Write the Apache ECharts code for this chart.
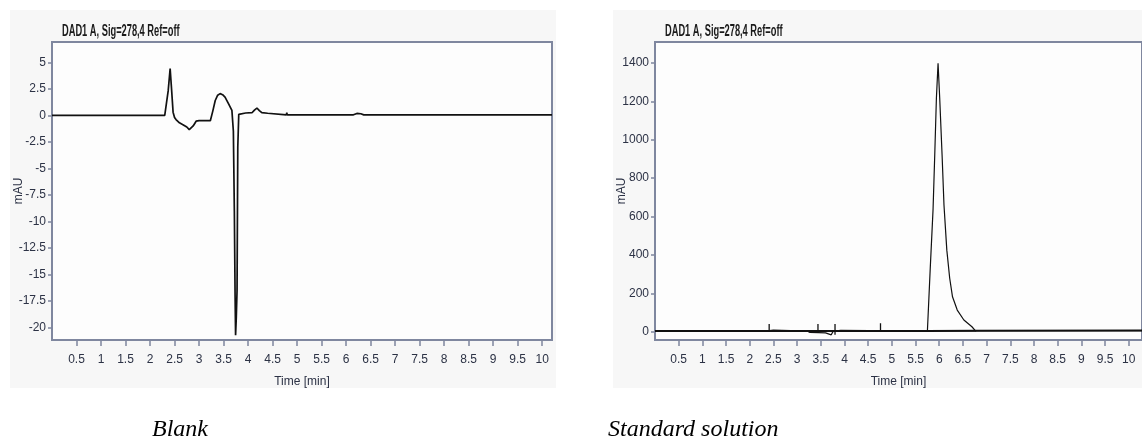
<!DOCTYPE html>
<html>
<head>
<meta charset="utf-8">
<script src="https://cdn.jsdelivr.net/npm/echarts@6/dist/echarts.min.js"></script>
<style>
html,body{margin:0;padding:0;background:#fff;}
#c{width:1142px;height:439px;}
</style>
</head>
<body>
<div id="c"></div>
<script>
// ---- data ----
var chartTitle = 'DAD1 A, Sig=278,4 Ref=off';
var yName = 'mAU';
var xName = 'Time [min]';
var captions = ['Blank', 'Standard solution'];
var xTicks = [0.5,1,1.5,2,2.5,3,3.5,4,4.5,5,5.5,6,6.5,7,7.5,8,8.5,9,9.5,10];
var blankYTicks = [5,2.5,0,-2.5,-5,-7.5,-10,-12.5,-15,-17.5,-20];
var stdYTicks = [0,200,400,600,800,1000,1200,1400];

// blank chromatogram [time min, mAU]
var blankTrace = [
  [0,0],[2.30,0],[2.34,0.1],[2.37,2.3],[2.41,4.4],[2.44,2.4],[2.47,0.3],[2.50,-0.2],[2.53,-0.4],
  [2.60,-0.7],[2.68,-0.9],[2.75,-1.1],[2.80,-1.35],[2.83,-1.4],[2.88,-1.0],[2.94,-0.55],[3.00,-0.5],
  [3.12,-0.5],[3.23,-0.5],[3.28,0.4],[3.33,1.4],[3.38,1.9],[3.43,2.05],[3.48,1.95],[3.53,1.72],
  [3.60,1.1],[3.67,0.47],[3.70,-1.5],[3.72,-9],[3.735,-17],[3.745,-20.7],[3.76,-19],[3.775,-16.5],
  [3.79,-3],[3.81,0.1],[3.84,0.22],[3.95,0.22],[4.08,0.25],[4.13,0.5],[4.18,0.69],[4.23,0.45],
  [4.28,0.25],[4.40,0.2],[4.44,0.05],[4.78,0.05],[4.79,0.25],[4.80,0.05],[6.15,0.05],[6.22,0.18],
  [6.30,0.15],[6.36,0.05],[10.2,0.05]
];

// standard solution chromatogram [time min, mAU]
var stdTrace = [
  [0,3],[2.33,3],[2.35,9],[2.50,9],[2.52,3],[3.22,3],[3.27,-4],[3.45,-5],[3.60,-6],[3.63,-16],
  [3.72,-16],[3.76,2],[3.80,7],[3.92,7],[3.95,4],[5.75,4],[5.81,330],[5.87,640],[5.905,920],
  [5.94,1216],[5.975,1398],[6.01,1216],[6.06,920],[6.10,660],[6.16,425],[6.22,280],[6.28,182],
  [6.38,113],[6.52,61],[6.69,26],[6.76,6],[10.3,6]
];
// integration markers (baseline and peak ticks) on the standard chromatogram
var stdMarks = [
  [[2.41,5],[2.41,40]],
  [[3.22,6],[3.62,6]],
  [[3.44,5],[3.44,40]],
  [[3.80,-16],[3.80,40]],
  [[4.76,5],[4.76,44]],
  [[5.75,5],[6.78,5]]
];
// drawn baseline of the standard run (thicker trace in the reference)
var stdBaseline = [[0,4],[5.75,4],[6.78,5],[10.3,6]];

// ---- chart ----
var axisColor = '#7f879f';
var labelColor = '#2c3245';
var sans = '"Liberation Sans", Arial, sans-serif';

function plain(v) { return String(v); }

function xAxisCfg(gridIndex, max) {
  return {
    type: 'value', gridIndex: gridIndex, min: 0, max: max,
    name: xName, nameLocation: 'middle', nameGap: 36, nameMoveOverlap: false,
    nameTextStyle: {fontFamily: sans, fontSize: 12, color: labelColor},
    axisLine: {show: true, onZero: false, lineStyle: {color: axisColor, width: 2}},
    axisTick: {show: true, inside: false, length: 6, customValues: xTicks, lineStyle: {color: axisColor, width: 1.5}},
    axisLabel: {customValues: xTicks, margin: 14, fontFamily: sans, fontSize: 12, color: labelColor, formatter: plain},
    splitLine: {show: false}
  };
}
function yAxisCfg(gridIndex, min, max, ticks) {
  return {
    type: 'value', gridIndex: gridIndex, min: min, max: max,
    name: yName, nameLocation: 'middle', nameGap: 27, nameRotate: 90, nameMoveOverlap: false,
    nameTextStyle: {fontFamily: sans, fontSize: 12, color: labelColor},
    axisLine: {show: true, onZero: false, lineStyle: {color: axisColor, width: 2}},
    axisTick: {show: true, inside: false, length: 4, customValues: ticks, lineStyle: {color: axisColor, width: 1.5}},
    axisLabel: {customValues: ticks, margin: 6, fontFamily: sans, fontSize: 12, color: labelColor, formatter: plain},
    splitLine: {show: false}
  };
}

var series = [
  {type: 'line', xAxisIndex: 0, yAxisIndex: 0, data: blankTrace, showSymbol: false, symbol: 'none',
   lineStyle: {color: '#111', width: 1.7}, silent: true, animation: false},
  {type: 'line', xAxisIndex: 1, yAxisIndex: 1, data: stdBaseline, showSymbol: false, symbol: 'none',
   lineStyle: {color: '#111', width: 2}, silent: true, animation: false},
  {type: 'line', xAxisIndex: 1, yAxisIndex: 1, data: stdTrace, showSymbol: false, symbol: 'none',
   lineStyle: {color: '#111', width: 1.2}, silent: true, animation: false}
];
stdMarks.forEach(function (seg) {
  series.push({type: 'line', xAxisIndex: 1, yAxisIndex: 1, data: seg, showSymbol: false, symbol: 'none',
    lineStyle: {color: '#111', width: 1.3}, silent: true, animation: false});
});

var titleFont = 'bold 16px "Liberation Sans", Arial, sans-serif';

var chart = echarts.init(document.getElementById('c'), null, {renderer: 'canvas'});
chart.setOption({
  backgroundColor: '#ffffff',
  animation: false,
  graphic: [
    {type: 'rect', z: -10, shape: {x: 10, y: 10, width: 546, height: 378}, style: {fill: '#f7f7f7'}},
    {type: 'rect', z: -10, shape: {x: 613, y: 10, width: 529, height: 378}, style: {fill: '#f7f7f7'}},
    {type: 'text', x: 62, y: 24, scaleX: 0.58, style: {text: chartTitle, font: titleFont, fill: '#1a1a1a'}},
    {type: 'text', x: 665, y: 24, scaleX: 0.58, style: {text: chartTitle, font: titleFont, fill: '#1a1a1a'}},
    {type: 'text', left: 152, top: 418, style: {text: captions[0], font: 'italic 24px "Liberation Serif", serif', fill: '#000'}},
    {type: 'text', left: 608, top: 418, style: {text: captions[1], font: 'italic 24px "Liberation Serif", serif', fill: '#000'}}
  ],
  grid: [
    {left: 52, top: 42, width: 500, height: 298, show: true, backgroundColor: '#fdfdfd', borderColor: axisColor, borderWidth: 2, containLabel: false},
    {left: 655, top: 42, width: 500, height: 298, show: true, backgroundColor: '#fdfdfd', borderColor: axisColor, borderWidth: 2, containLabel: false}
  ],
  xAxis: [xAxisCfg(0, 10.2), xAxisCfg(1, 10.28)],
  yAxis: [yAxisCfg(0, -21.16, 6.91, blankYTicks), yAxisCfg(1, -43, 1509, stdYTicks)],
  series: series
});
</script>
</body>
</html>
